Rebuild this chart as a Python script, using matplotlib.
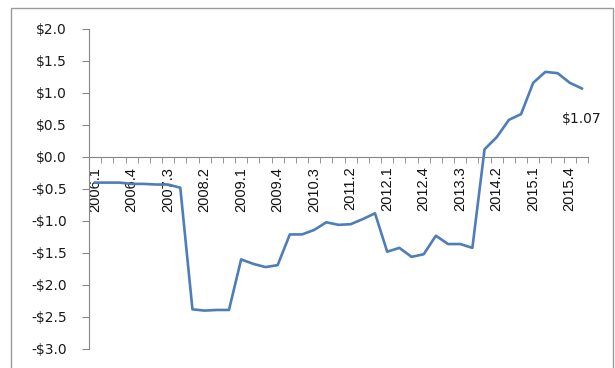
import matplotlib
matplotlib.use("Agg")
import matplotlib.pyplot as plt
from matplotlib.patches import Rectangle
import numpy as np

# Quarterly categories 2006.1 .. 2016.1
years = list(range(2006, 2017))
quarters = [f"{y}.{q}" for y in years for q in range(1, 5)][:41]

values = [-0.40, -0.40, -0.40, -0.42, -0.42, -0.43, -0.43, -0.48,
          -2.38, -2.40, -2.39, -2.39,
          -1.60, -1.67, -1.72, -1.69,
          -1.21, -1.21, -1.14, -1.02, -1.06, -1.05, -0.97, -0.88,
          -1.48, -1.42, -1.56, -1.52, -1.23, -1.36, -1.36, -1.42,
          0.12, 0.31, 0.58, 0.67, 1.16, 1.33, 1.31, 1.16, 1.07]

label_every = 3
end_label = "$1.07"
ytick_vals = [-3.0, -2.5, -2.0, -1.5, -1.0, -0.5, 0.0, 0.5, 1.0, 1.5, 2.0]

def money(v):
    return ("-" if v < 0 else "") + "$" + f"{abs(v):.1f}"

fig = plt.figure(figsize=(6.15, 3.68), dpi=100)
fig.patch.set_facecolor("white")

# outer chart frame
fig.patches.append(Rectangle((11/615, -0.05), (613-11)/615, 1.05 - 8/368,
                             transform=fig.transFigure, fill=False,
                             edgecolor="#9a9a9a", linewidth=1.0))

ax = fig.add_axes([89/615, 19/368, (588-89)/615, (349-29)/368])
x = np.arange(len(values))
ax.plot(x, values, color="#4F7DB8", linewidth=1.9, solid_joinstyle="round")

ax.set_xlim(-0.5, len(values) - 0.5)
ax.set_ylim(-3.0, 2.0)

for s in ["top", "right"]:
    ax.spines[s].set_visible(False)
ax.spines["left"].set_color("#868686")
ax.spines["bottom"].set_color("#868686")
ax.spines["bottom"].set_position(("data", 0))

ax.set_yticks(ytick_vals)
ax.set_yticklabels([money(v) for v in ytick_vals], fontsize=10,
                   family="DejaVu Sans", color="#1a1a1a")
ax.tick_params(axis="y", direction="out", length=5, color="#868686", pad=11)

lab_pos = list(range(0, len(values), label_every))[:14]
ax.set_xticks(lab_pos)
ax.set_xticklabels([quarters[i] for i in lab_pos], rotation=90,
                   fontsize=10.5, family="Liberation Sans", color="#111111")
ax.tick_params(axis="x", which="major", length=0, pad=7)
ax.set_xticks(np.arange(-0.5, len(values) + 0.5, 1.0), minor=True)
ax.tick_params(axis="x", which="minor", direction="out", length=4,
               color="#868686")

ax.annotate(end_label, (x[-1], values[-1]), xytext=(0, -22),
            textcoords="offset points", ha="center", va="center",
            fontsize=10, family="DejaVu Sans", color="#1a1a1a")

fig.savefig("out.png", dpi=100, facecolor="white")
